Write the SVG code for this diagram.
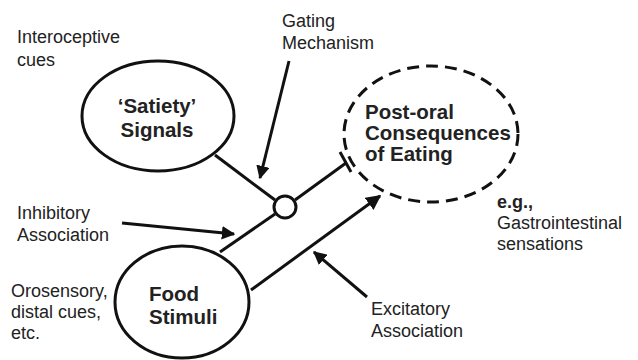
<svg xmlns="http://www.w3.org/2000/svg" width="638" height="360" viewBox="0 0 638 360">
<style>
.lbl{font-family:"Liberation Sans",Arial,sans-serif;font-size:18px;fill:#222}
.bold{font-family:"Liberation Sans",Arial,sans-serif;font-size:20.5px;font-weight:bold;fill:#222}
.node{fill:#fff;stroke:#111;stroke-width:3}
.ln{stroke:#111;stroke-width:3;fill:none}
</style>
<defs>
<marker id="ah" viewBox="0 0 10 10" refX="9" refY="5" markerWidth="5" markerHeight="5" orient="auto" markerUnits="strokeWidth">
<path d="M0,0 L10,5 L0,10 z" fill="#111"/>
</marker>
<marker id="ahs" viewBox="0 0 10 10" refX="9" refY="5" markerWidth="4.5" markerHeight="4.5" orient="auto" markerUnits="strokeWidth">
<path d="M0,0 L10,5 L0,10 z" fill="#111"/>
</marker>
</defs>
<g id="connectors">
<line class="ln" x1="215" y1="155" x2="275" y2="200"/>
<line class="ln" x1="220" y1="252" x2="275" y2="214"/>
<line class="ln" x1="295" y1="200" x2="346" y2="163"/>
<line class="ln" x1="340" y1="152" x2="351" y2="172"/>
<line class="ln" x1="251" y1="290" x2="380" y2="196" marker-end="url(#ah)"/>
<line class="ln" x1="289" y1="61" x2="260" y2="178" marker-end="url(#ahs)"/>
<line class="ln" x1="122" y1="223" x2="234" y2="234" marker-end="url(#ahs)"/>
<line class="ln" x1="367" y1="297" x2="314" y2="252" marker-end="url(#ahs)"/>
</g>
<g id="satiety">
<ellipse class="node" cx="158" cy="116" rx="76" ry="55"/>
<text class="bold" x="157" y="113" text-anchor="middle">‘Satiety’</text>
<text class="bold" x="157" y="137" text-anchor="middle">Signals</text>
</g>
<g id="food">
<ellipse class="node" cx="182" cy="302" rx="67" ry="56"/>
<text class="bold" x="149" y="301">Food</text>
<text class="bold" x="149" y="324">Stimuli</text>
</g>
<g id="postoral">
<ellipse cx="431" cy="134" rx="87" ry="68" fill="#fff" stroke="#111" stroke-width="3" stroke-dasharray="12,7"/>
<text class="bold" x="365" y="119">Post-oral</text>
<text class="bold" x="365" y="140">Consequences</text>
<text class="bold" x="365" y="161">of Eating</text>
</g>
<g id="gate">
<circle cx="285" cy="207" r="11" fill="#fff" stroke="#111" stroke-width="3"/>
</g>
<g id="labels">
<text class="lbl" x="17" y="43">Interoceptive</text>
<text class="lbl" x="17" y="66">cues</text>
<text class="lbl" x="282" y="27">Gating</text>
<text class="lbl" x="282" y="49">Mechanism</text>
<text class="lbl" x="17" y="219">Inhibitory</text>
<text class="lbl" x="17" y="241">Association</text>
<text class="lbl" x="11" y="297">Orosensory,</text>
<text class="lbl" x="11" y="318">distal cues,</text>
<text class="lbl" x="11" y="339">etc.</text>
<text class="lbl" x="497" y="208" font-weight="bold">e.g.,</text>
<text class="lbl" x="497" y="229">Gastrointestinal</text>
<text class="lbl" x="497" y="250">sensations</text>
<text class="lbl" x="371" y="315">Excitatory</text>
<text class="lbl" x="371" y="337">Association</text>
</g>
</svg>
